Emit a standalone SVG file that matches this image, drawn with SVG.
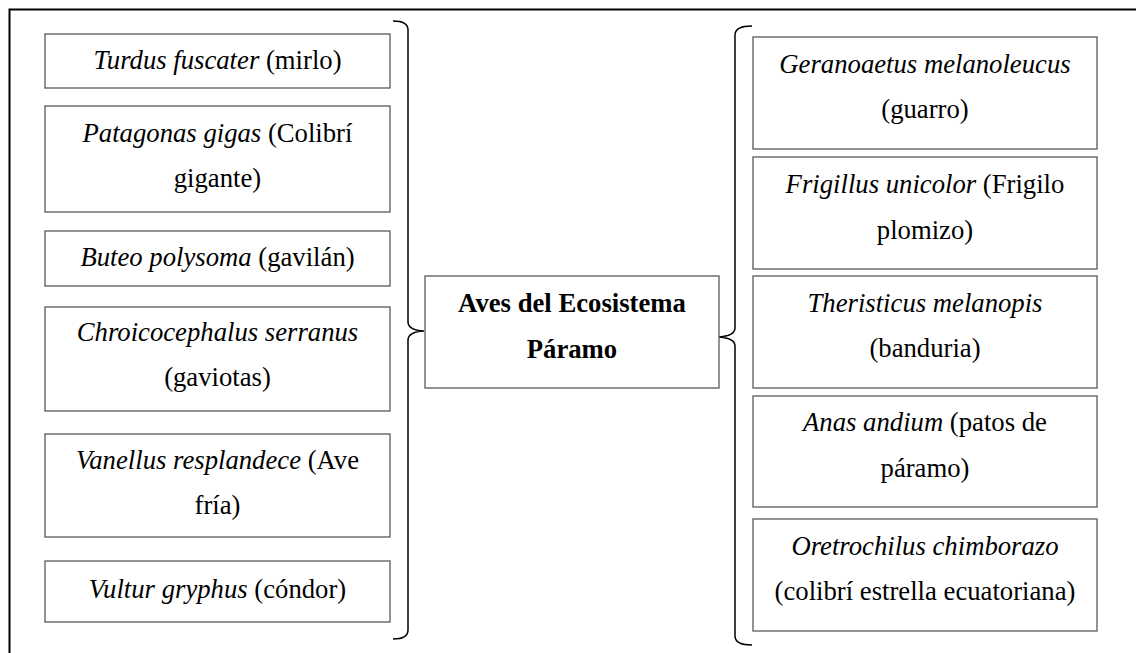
<svg xmlns="http://www.w3.org/2000/svg" width="1136" height="653" viewBox="0 0 1136 653">
<defs>
<style>
.box{fill:#fff;stroke:#595959;stroke-width:1.3}
.br{fill:none;stroke:#000;stroke-width:1.5}
.frame{fill:none;stroke:#000;stroke-width:2}
</style>
</defs>
<rect width="1136" height="653" fill="#fff"/>
<path class="frame" d="M9.5,653 L9.5,9.5 L1136,9.5"/>
<g id="connectors">
<path class="br" d="M393,21 Q408,21 408,30 L408,322 Q408,330 424,331 Q408,332 408,340 L408,630 Q408,639 393,639"/>
<path class="br" d="M752,26 Q735,26 735,35 L735,328 Q735,336 718,337 Q735,338 735,346 L735,636 Q735,645 752,645"/>
</g>
<g font-family="Liberation Serif, Times New Roman, serif" font-size="26.7" fill="#000" text-anchor="middle">
<g id="center">
<rect class="box" x="425" y="276" width="294" height="112"/>
<text x="572" y="312" font-weight="bold">Aves del Ecosistema</text>
<text x="572" y="358" font-weight="bold">Páramo</text>
</g>
<g id="l1">
<rect class="box" x="45" y="34" width="345" height="54"/>
<text x="217.5" y="69"><tspan font-style="italic">Turdus fuscater</tspan> (mirlo)</text>
</g>
<g id="l2">
<rect class="box" x="45" y="106" width="345" height="106"/>
<text x="217.5" y="142"><tspan font-style="italic">Patagonas gigas</tspan> (Colibrí</text>
<text x="217.5" y="187">gigante)</text>
</g>
<g id="l3">
<rect class="box" x="45" y="231" width="345" height="55"/>
<text x="217.5" y="266"><tspan font-style="italic">Buteo polysoma</tspan> (gavilán)</text>
</g>
<g id="l4">
<rect class="box" x="45" y="307" width="345" height="104"/>
<text x="217.5" y="341"><tspan font-style="italic">Chroicocephalus serranus</tspan></text>
<text x="217.5" y="386">(gaviotas)</text>
</g>
<g id="l5">
<rect class="box" x="45" y="434" width="345" height="103"/>
<text x="217.5" y="469"><tspan font-style="italic">Vanellus resplandece</tspan> (Ave</text>
<text x="217.5" y="514">fría)</text>
</g>
<g id="l6">
<rect class="box" x="45" y="561" width="345" height="61"/>
<text x="217.5" y="598"><tspan font-style="italic">Vultur gryphus</tspan> (cóndor)</text>
</g>
<g id="r1">
<rect class="box" x="753" y="37" width="344" height="112"/>
<text x="925" y="73"><tspan font-style="italic">Geranoaetus melanoleucus</tspan></text>
<text x="925" y="118">(guarro)</text>
</g>
<g id="r2">
<rect class="box" x="753" y="157" width="344" height="112"/>
<text x="925" y="193"><tspan font-style="italic">Frigillus unicolor</tspan> (Frigilo</text>
<text x="925" y="239">plomizo)</text>
</g>
<g id="r3">
<rect class="box" x="753" y="276" width="344" height="112"/>
<text x="925" y="312"><tspan font-style="italic">Theristicus melanopis</tspan></text>
<text x="925" y="357">(banduria)</text>
</g>
<g id="r4">
<rect class="box" x="753" y="396" width="344" height="111"/>
<text x="925" y="431"><tspan font-style="italic">Anas andium</tspan> (patos de</text>
<text x="925" y="477">páramo)</text>
</g>
<g id="r5">
<rect class="box" x="753" y="519" width="344" height="112"/>
<text x="925" y="555"><tspan font-style="italic">Oretrochilus chimborazo</tspan></text>
<text x="925" y="600">(colibrí estrella ecuatoriana)</text>
</g>
</g>
</svg>
